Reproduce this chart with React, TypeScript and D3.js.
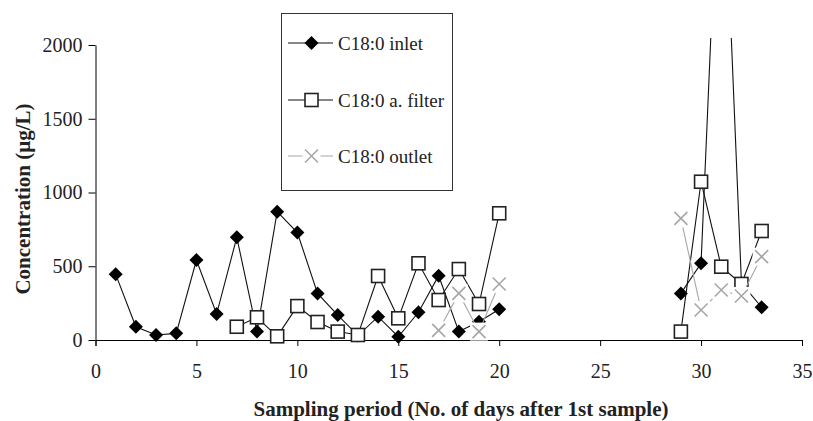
import { useRef, useEffect } from 'react';
import * as d3 from 'd3';

// sampling days (no samples between day 20 and day 29)
const days = [1, 2, 3, 4, 5, 6, 7, 8, 9, 10, 11, 12, 13, 14, 15, 16, 17, 18, 19, 20, 29, 30, 31, 32, 33];

const inlet = [445, 90, 34, 45, 542, 176, 696, 57, 870, 728, 316, 169, 30, 158, 22, 188, 436, 57, 124, 208, 316, 520, 3700, 385, 222];
const filter = [null, null, null, null, null, null, 90, 154, 25, 230, 122, 57, 34, 434, 147, 520, 271, 481, 244, 859, 57, 1073, 497, 380, 739];
const outlet = [null, null, null, null, null, null, null, null, null, null, null, null, null, null, null, null, 65, 316, 57, 380, 825, 203, 339, 298, 565];

const seriesNames = ['C18:0 inlet', 'C18:0 a. filter', 'C18:0 outlet'];
const xTicks = [0, 5, 10, 15, 20, 25, 30, 35];
const yTicks = [0, 500, 1000, 1500, 2000];

const GRAY = '#a6a6a6';
const FONT = '"Liberation Serif", "Times New Roman", serif';

function App() {
  const svgRef = useRef(null);
  const width = 813;
  const height = 421;

  useEffect(() => {
    const svg = d3.select(svgRef.current);
    svg.selectAll('*').remove();
    svg.style('font-family', FONT).style('font-size', '19px');

    const x = d3.scaleLinear().domain([0, 35]).range([95.5, 802]);
    const y = d3.scaleLinear().domain([0, 2000]).range([340, 45]);

    // axes
    const xAxis = svg
      .append('g')
      .attr('transform', `translate(0,${y(0)})`)
      .call(d3.axisBottom(x).tickValues(xTicks).tickSize(6).tickPadding(18));
    xAxis.select('.domain').attr('stroke', '#000');
    xAxis.selectAll('text').style('font-size', '20px').style('font-family', FONT).attr('fill', '#222');

    const yAxis = svg
      .append('g')
      .attr('transform', `translate(${x(0)},0)`)
      .call(
        d3
          .axisLeft(y)
          .tickValues(yTicks)
          .tickFormat(d3.format('d'))
          .tickSize(7)
          .tickPadding(6)
          .tickSizeOuter(0)
      );
    yAxis.selectAll('text').style('font-size', '20px').style('font-family', FONT).attr('fill', '#222');

    svg
      .append('text')
      .attr('transform', 'translate(23,199) rotate(-90)')
      .attr('text-anchor', 'middle')
      .attr('dy', '0.35em')
      .style('font-weight', 700)
      .style('font-size', '21px')
      .attr('fill', '#222')
      .text('Concentration (µg/L)');

    svg
      .append('text')
      .attr('x', 461)
      .attr('y', 409)
      .attr('text-anchor', 'middle')
      .attr('dy', '0.35em')
      .style('font-weight', 700)
      .style('font-size', '21px')
      .attr('fill', '#222')
      .text('Sampling period (No. of days after 1st sample)');

    svg
      .append('clipPath')
      .attr('id', 'plot-clip')
      .append('rect')
      .attr('x', 80)
      .attr('y', 38)
      .attr('width', 740)
      .attr('height', 320);

    const plot = svg.append('g').attr('clip-path', 'url(#plot-clip)');

    const rows = (vals) => days.map((d, i) => ({ day: d, v: vals[i] }));
    const line = d3
      .line()
      .defined((d) => d.v != null)
      .x((d) => x(d.day))
      .y((d) => y(d.v));

    // break the line across the gap between day 20 and day 29
    const segments = (vals) => {
      const r = rows(vals);
      return [r.filter((d) => d.day <= 20), r.filter((d) => d.day >= 29)];
    };

    const diamond = (g, cx, cy) =>
      g
        .append('path')
        .attr('d', `M${cx},${cy - 7}L${cx + 7},${cy}L${cx},${cy + 7}L${cx - 7},${cy}Z`)
        .attr('fill', '#000');
    const square = (g, cx, cy) =>
      g
        .append('rect')
        .attr('x', cx - 6.5)
        .attr('y', cy - 6.5)
        .attr('width', 13)
        .attr('height', 13)
        .attr('fill', '#fff')
        .attr('stroke', '#222')
        .attr('stroke-width', 1.6);
    const cross = (g, cx, cy) => {
      // white box behind the cross, it hides what lies under it
      g.append('rect')
        .attr('x', cx - 9)
        .attr('y', cy - 9)
        .attr('width', 18)
        .attr('height', 18)
        .attr('fill', '#fff');
      g.append('path')
        .attr('d', `M${cx - 6.5},${cy - 6.5}L${cx + 6.5},${cy + 6.5}M${cx + 6.5},${cy - 6.5}L${cx - 6.5},${cy + 6.5}`)
        .attr('stroke', GRAY)
        .attr('stroke-width', 1.6)
        .attr('fill', 'none');
    };

    const series = [
      { vals: inlet, color: '#111', marker: diamond },
      { vals: filter, color: '#111', marker: square },
      { vals: outlet, color: GRAY, marker: cross },
    ];

    series.forEach((s) => {
      const g = plot.append('g');
      segments(s.vals).forEach((seg) => {
        g.append('path')
          .datum(seg)
          .attr('fill', 'none')
          .attr('stroke', s.color)
          .attr('stroke-width', 1.1)
          .attr('d', line);
      });
      rows(s.vals)
        .filter((d) => d.v != null)
        .forEach((d) => s.marker(g, x(d.day), y(d.v)));
    });

    // legend
    const legend = svg.append('g');
    legend
      .append('rect')
      .attr('x', 281.5)
      .attr('y', 13.5)
      .attr('width', 171)
      .attr('height', 177)
      .attr('fill', '#fff')
      .attr('stroke', '#333')
      .attr('stroke-width', 1);

    const legendY = [43, 100, 156];
    series.forEach((s, i) => {
      const ly = legendY[i];
      legend
        .append('line')
        .attr('x1', 288)
        .attr('x2', 333)
        .attr('y1', ly)
        .attr('y2', ly)
        .attr('stroke', s.color)
        .attr('stroke-width', 1.1);
      s.marker(legend, 311.5, ly);
      legend
        .append('text')
        .attr('x', 338)
        .attr('y', ly)
        .attr('dy', '0.35em')
        .attr('fill', '#222')
        .text(seriesNames[i]);
    });
  }, []);

  return (
    <svg
      ref={svgRef}
      width={width}
      height={height}
      style={{ position: 'absolute', left: 0, top: 0, background: '#fff' }}
    ></svg>
  );
}

export default App;
